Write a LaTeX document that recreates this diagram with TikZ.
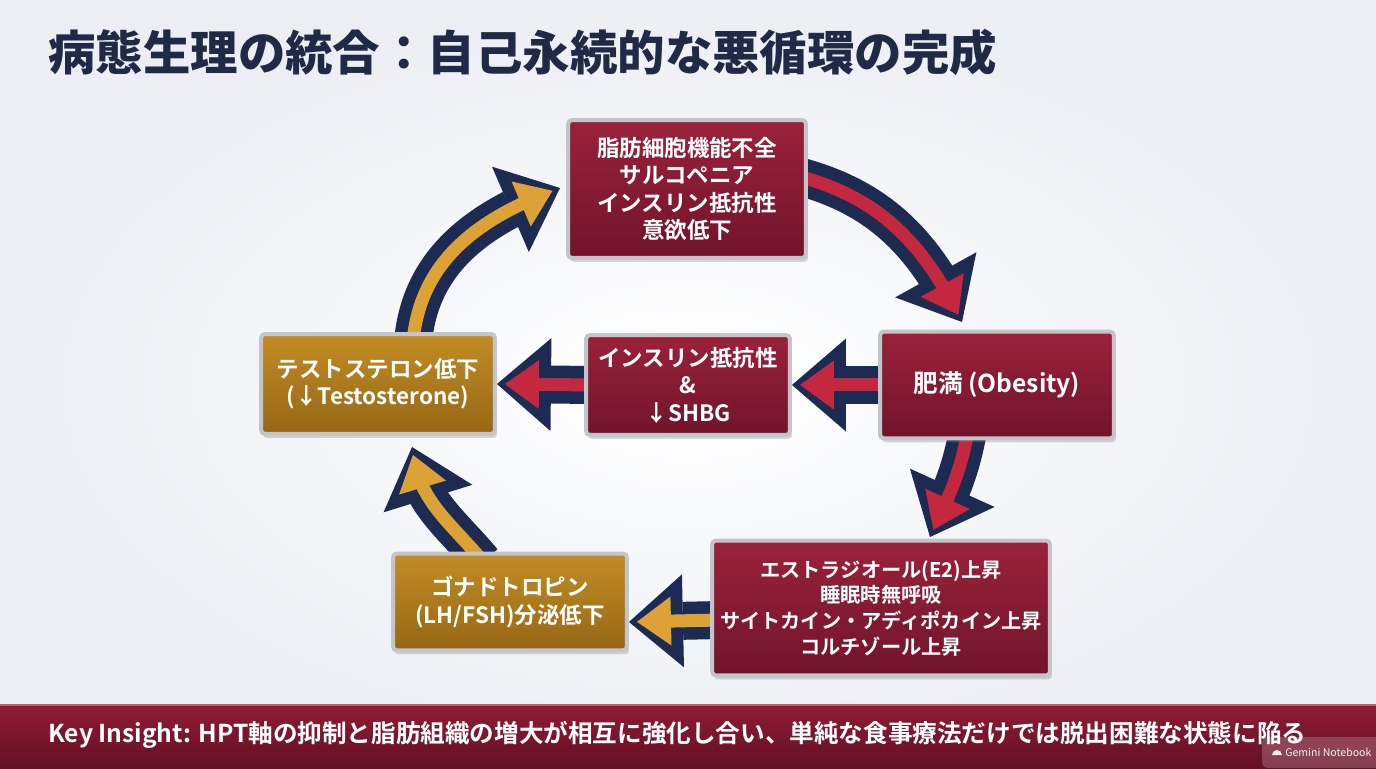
\documentclass[tikz,border=0pt]{standalone}
\usepackage{fontspec}
\setmainfont{Noto Sans CJK JP}[BoldFont={* Bold}]
\newfontfamily\titlefont{Noto Sans CJK JP Black}
\usetikzlibrary{arrows.meta,bending,shadows}
\definecolor{ringnavy}{HTML}{1D2B52}
\definecolor{titlenavy}{HTML}{1E2A46}
\definecolor{boxredtop}{HTML}{9A223A}
\definecolor{boxredbot}{HTML}{70142A}
\definecolor{boxgoldtop}{HTML}{C28C26}
\definecolor{boxgoldbot}{HTML}{966714}
\definecolor{arrred}{HTML}{C4283F}
\definecolor{arrgold}{HTML}{DCA235}
\definecolor{boxedge}{HTML}{C4C5CA}
\definecolor{bgedge}{HTML}{EBEEF3}
\definecolor{bannertop}{HTML}{8E1C33}
\definecolor{bannerbot}{HTML}{641024}
\definecolor{bannerline}{HTML}{C25A6C}
\pgfdeclarelayer{back}
\pgfdeclarelayer{ring}
\pgfsetlayers{back,ring,main}
\tikzset{
  redbox/.style={draw=boxedge, line width=0.08cm, rounded corners=0.08cm,
    top color=boxredtop, bottom color=boxredbot, text=white, align=center,
    inner sep=0pt, font=\bfseries\fontsize{12.8}{15.6}\selectfont,
    drop shadow={shadow xshift=0.04cm, shadow yshift=-0.08cm, opacity=0.3}},
  goldbox/.style={redbox, top color=boxgoldtop, bottom color=boxgoldbot},
  band/.style={draw=ringnavy, line width=0.76cm,
    -{Triangle[length=1.08cm, width=1.86cm, line width=0pt]}},
  redflow/.style={draw=arrred, line width=0.26cm, shorten >=0.16cm,
    -{Triangle[length=0.68cm, width=0.98cm, line width=0pt]}},
  goldflow/.style={redflow, draw=arrgold},
}

\begin{document}
\begin{tikzpicture}[x=0.02cm, y=0.02cm]
	\useasboundingbox (0,0) rectangle (1376,768);
	\begin{pgfonlayer}{back}
		\shade[inner color=white, outer color=bgedge] (0,0) rectangle (1376,768);
	\end{pgfonlayer}
	
	\node[anchor=west, inner sep=0pt, text=titlenavy, font=\titlefont\fontsize{27}{30}\selectfont] (title) at (48,716) {病態生理の統合：自己永続的な悪循環の完成};
	
	% boxes of the cycle
	\node[redbox, minimum width=4.76cm, minimum height=2.76cm] (cycTop) at (687,579) {脂肪細胞機能不全\\サルコペニア\\インスリン抵抗性\\意欲低下};
	\node[redbox, minimum width=4.68cm, minimum height=2.14cm, font=\bfseries\fontsize{14}{16}\selectfont] (obes) at (997,383) {肥満 (Obesity)};
	\node[redbox, minimum width=4.08cm, minimum height=2.0cm] (insul) at (688,383) {インスリン抵抗性\\\&\\↓SHBG};
	\node[goldbox, minimum width=4.68cm, minimum height=2.0cm] (testo) at (378,384) {テストステロン低下\\(↓Testosterone)};
	\node[redbox, minimum width=6.76cm, minimum height=2.7cm, font=\bfseries\fontsize{11.5}{14.6}\selectfont] (e2) at (881,160) {エストラジオール(E2)上昇\\睡眠時無呼吸\\サイトカイン・アディポカイン上昇\\コルチゾール上昇};
	\node[goldbox, minimum width=4.68cm, minimum height=1.94cm] (gonad) at (510,166) {ゴナドトロピン\\(LH/FSH)分泌低下};
	
	\coordinate (tipA) at (962,446);
	\coordinate (tipB) at (930,231);
	\coordinate (tipC) at (412,321);
	\coordinate (tipD) at (560,580);
	
	% ring arrows, behind the boxes
	\begin{pgfonlayer}{ring}
		\draw[band] ([xshift=-0.2cm,yshift=0.26cm]cycTop.east) to[out=-15,in=116] (tipA);
		\draw[redflow] ([xshift=-0.2cm,yshift=0.26cm]cycTop.east) to[out=-15,in=116] (tipA);
		
		\draw[band] ([xshift=-0.58cm,yshift=0.2cm]obes.south) to[out=-100,in=65] (tipB);
		\draw[redflow] ([xshift=-0.58cm,yshift=0.2cm]obes.south) to[out=-100,in=65] (tipB);
		
		\draw[band] ([xshift=0.2cm]obes.west) -- (insul.east);
		\draw[redflow] ([xshift=0.2cm]obes.west) -- (insul.east);
		
		\draw[band] ([xshift=0.2cm]insul.west) -- (testo.east);
		\draw[redflow] ([xshift=0.2cm]insul.west) -- (testo.east);
		
		\draw[band] ([xshift=0.2cm,yshift=-0.24cm]e2.west) -- ([yshift=-0.4cm]gonad.east);
		\draw[goldflow] ([xshift=0.2cm,yshift=-0.24cm]e2.west) -- ([yshift=-0.4cm]gonad.east);
		
		\draw[band] ([xshift=-0.54cm,yshift=-0.2cm]gonad.north) to[out=130,in=-85] (tipC);
		\draw[goldflow] ([xshift=-0.54cm,yshift=-0.2cm]gonad.north) to[out=130,in=-85] (tipC);
		
		\draw[band] ([xshift=0.7cm,yshift=-0.2cm]testo.north) to[out=85,in=200] (tipD);
		\draw[goldflow] ([xshift=0.7cm,yshift=-0.2cm]testo.north) to[out=85,in=200] (tipD);
	\end{pgfonlayer}
	
	% key insight banner
	\shade[top color=bannertop, bottom color=bannerbot] (0,0) rectangle (1376,63);
	\draw[bannerline, line width=0.04cm] (0,63) -- (1376,63);
	\node[anchor=west, inner sep=0pt, text=white, font=\bfseries\fontsize{14}{16}\selectfont] (insight) at (48,33) {Key Insight: HPT軸の抑制と脂肪組織の増大が相互に強化し合い、単純な食事療法だけでは脱出困難な状態に陥る};
	
	\fill[white, opacity=0.2, rounded corners=0.1cm] (1262,0) rectangle (1390,31);
	\fill[white!85!gray] (1272,13) arc[start angle=180, end angle=0, radius=5];
	\node[anchor=west, inner sep=0pt, text=white!88!gray, font=\fontsize{6}{7}\selectfont] (mark) at (1285,16) {Gemini Notebook};
\end{tikzpicture}
\end{document}
